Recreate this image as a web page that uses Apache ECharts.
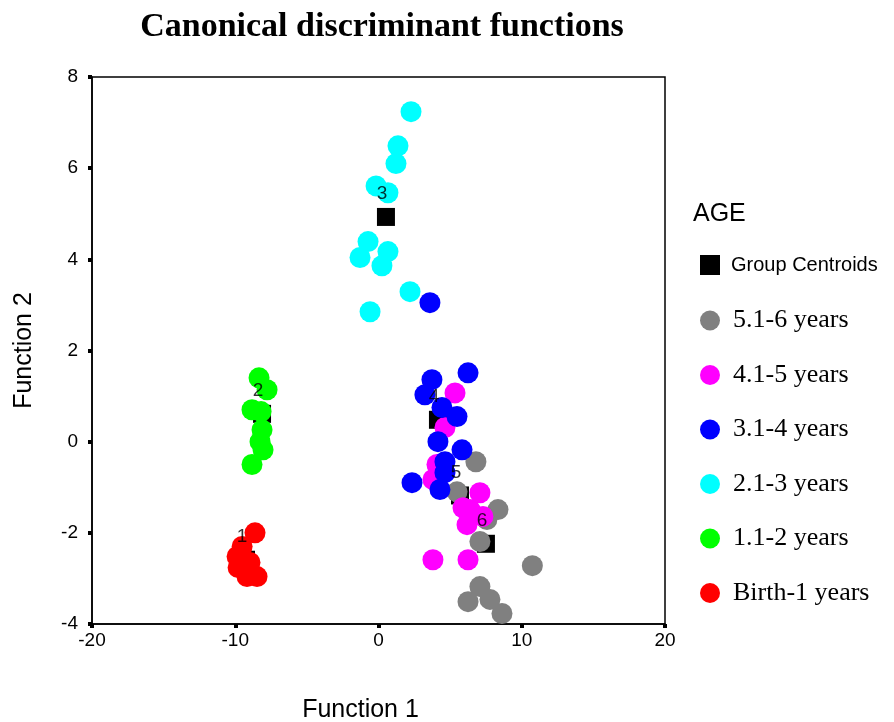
<!DOCTYPE html>
<html>
<head>
<meta charset="utf-8">
<script src="https://cdn.jsdelivr.net/npm/echarts@6/dist/echarts.min.js"></script>
<style>html,body{margin:0;padding:0;background:#fff}#c{width:894px;height:722px}</style>
</head>
<body>
<div id="c"></div>
<script>
// Tick labels
const xTicks = [-20, -10, 0, 10, 20];
const yTicks = [-4, -2, 0, 2, 4, 6, 8];

// Group centroids [x, y, label]
const centroids = [
  [-9.25, -2.59, '1'],
  [-8.13, 0.61, '2'],
  [0.52, 4.93, '3'],
  [4.15, 0.48, '4'],
  [5.69, -1.18, '5'],
  [7.50, -2.24, '6']
];

const age5to6 = [
  [6.80, -0.44], [5.48, -1.10], [8.34, -1.49], [7.57, -1.71], [7.08, -2.19],
  [10.74, -2.72], [7.08, -3.18], [6.25, -3.51], [7.78, -3.46], [8.62, -3.77]
];
const age4to5 = [
  [5.34, 1.07], [4.64, 0.31], [4.08, -0.50], [3.80, -0.83], [7.08, -1.12],
  [5.90, -1.45], [7.29, -1.64], [6.18, -1.82], [6.39, -1.49], [3.80, -2.59], [6.25, -2.59]
];
const age3to4 = [
  [3.59, 3.05], [6.25, 1.51], [3.73, 1.36], [3.24, 1.03], [4.43, 0.75],
  [5.48, 0.55], [4.15, 0.00], [5.83, -0.18], [4.64, -0.44], [4.64, -0.68],
  [2.34, -0.90], [4.29, -1.05]
];
const age2to3 = [
  [2.27, 7.24], [1.36, 6.49], [1.22, 6.10], [-0.17, 5.61], [0.66, 5.46],
  [-0.73, 4.39], [-1.29, 4.04], [0.66, 4.17], [0.24, 3.86], [2.20, 3.29], [-0.59, 2.85]
];
const age1to2 = [
  [-8.34, 1.40], [-7.78, 1.14], [-8.83, 0.70], [-8.20, 0.66], [-8.13, 0.26],
  [-8.27, 0.00], [-8.06, -0.18], [-8.83, -0.50]
];
const ageBirthTo1 = [
  [-8.62, -2.00], [-9.52, -2.30], [-9.87, -2.52], [-9.80, -2.76],
  [-9.18, -2.96], [-8.48, -2.96], [-8.97, -2.65]
];

const groupNames = ['5.1-6 years', '4.1-5 years', '3.1-4 years', '2.1-3 years', '1.1-2 years', 'Birth-1 years'];
const groupColors = ['#808080', '#ff00ff', '#0000ff', '#00ffff', '#00ff00', '#ff0000'];
const groupData = [age5to6, age4to5, age3to4, age2to3, age1to2, ageBirthTo1];

const chart = echarts.init(document.getElementById('c'));
const serifFont = '"Liberation Serif", "Times New Roman", serif';
const sansFont = '"Liberation Sans", Arial, sans-serif';

const series = [{
  name: 'Group Centroids',
  type: 'scatter',
  symbol: 'rect',
  symbolSize: 18,
  z: 1,
  itemStyle: { color: '#000', opacity: 1 },
  emphasis: { disabled: true },
  data: centroids.map(c => [c[0], c[1]])
}];
groupNames.forEach((n, i) => {
  series.push({
    name: n,
    type: 'scatter',
    symbol: 'circle',
    symbolSize: 21,
    z: 2,
    itemStyle: { color: groupColors[i], opacity: 1 },
    emphasis: { disabled: true },
    data: groupData[i]
  });
});
series.push({
  name: 'labels',
  type: 'scatter',
  symbol: 'rect',
  symbolSize: 1,
  z: 5,
  silent: true,
  itemStyle: { color: 'rgba(0,0,0,0)' },
  label: {
    show: true,
    position: 'inside',
    offset: [-4, -23],
    formatter: p => p.data[2],
    color: '#000',
    fontFamily: sansFont,
    fontSize: 19
  },
  data: centroids
});

chart.setOption({
  animation: false,
  backgroundColor: '#fff',
  title: [{
    text: 'Canonical discriminant functions',
    left: 377,
    top: 5,
    textAlign: 'center',
    textStyle: { fontFamily: serifFont, fontWeight: 'bold', fontSize: 34, color: '#000' }
  }, {
    text: 'AGE',
    left: 688,
    top: 197,
    textStyle: { fontFamily: sansFont, fontWeight: 'normal', fontSize: 25, color: '#000' }
  }],
  grid: {
    left: 92, top: 77, width: 573, height: 547,
    outerBoundsMode: 'none',
    containLabel: false,
    show: true, borderColor: '#000', borderWidth: 1.5
  },
  legend: {
    orient: 'vertical',
    left: 700,
    top: 251,
    padding: 0,
    itemWidth: 20,
    itemHeight: 20,
    itemGap: 28.5,
    selectedMode: false,
    textStyle: { fontFamily: serifFont, fontSize: 26, color: '#000', padding: [0, 0, 0, 8] },
    data: [
      { name: 'Group Centroids', icon: 'rect',
        textStyle: { fontFamily: sansFont, fontSize: 20, color: '#000', lineHeight: 28, padding: [0, 0, 0, 6] } }
    ].concat(groupNames.map(n => ({ name: n, icon: 'circle' })))
  },
  xAxis: {
    type: 'value',
    min: xTicks[0], max: xTicks[xTicks.length - 1], interval: 10,
    name: 'Function 1',
    nameLocation: 'middle',
    nameGap: 74,
    nameTextStyle: { fontFamily: sansFont, fontSize: 25, color: '#000', padding: [0, 36, 0, 0] },
    axisLine: { show: true, onZero: false, lineStyle: { color: '#000', width: 1.5 } },
    axisTick: { show: true, length: 4, lineStyle: { color: '#000', width: 4 } },
    axisLabel: { fontFamily: sansFont, fontSize: 19, color: '#000', margin: 7 },
    splitLine: { show: false }
  },
  yAxis: {
    type: 'value',
    min: yTicks[0], max: yTicks[yTicks.length - 1], interval: 2,
    name: 'Function 2',
    nameLocation: 'middle',
    nameGap: 55,
    nameTextStyle: { fontFamily: sansFont, fontSize: 25, color: '#000' },
    axisLine: { show: true, onZero: false, lineStyle: { color: '#000', width: 1.5 } },
    axisTick: { show: true, length: 4, lineStyle: { color: '#000', width: 4 } },
    axisLabel: { fontFamily: sansFont, fontSize: 19, color: '#000', margin: 14 },
    splitLine: { show: false }
  },
  series: series
});
</script>
</body>
</html>
